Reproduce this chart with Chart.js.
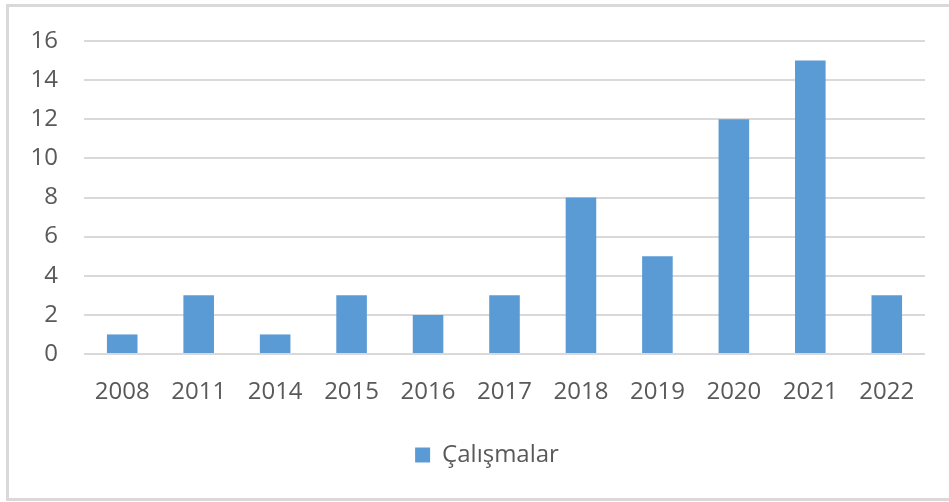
<!DOCTYPE html>
<html>
<head>
<meta charset="utf-8">
<script src="https://cdn.jsdelivr.net/npm/chart.js@4/dist/chart.umd.min.js"></script>
<style>
  html, body { margin: 0; padding: 0; background: #ffffff; }
  #wrap { position: relative; width: 949px; height: 502px; overflow: hidden; }
  #frame { position: absolute; left: 6px; top: 4px; width: 1000px; height: 497px;
           border: 3px solid #d9d9d9; box-sizing: border-box; }
  canvas { position: absolute; left: 0; top: 0; }
</style>
</head>
<body>
<div id="wrap">
  <div id="frame"></div>
  <canvas id="c" width="949" height="502"></canvas>
</div>
<script>
const categories = ["2008", "2011", "2014", "2015", "2016", "2017", "2018", "2019", "2020", "2021", "2022"];
const seriesName = "Çalışmalar";
const values = [1, 3, 1, 3, 2, 3, 8, 5, 12, 15, 3];
const yTicks = [0, 2, 4, 6, 8, 10, 12, 14, 16];

const FONT = "'Open Sans', 'Liberation Sans', sans-serif";
const TEXT = "#595959";

const legendShift = {
  id: "legendShift",
  afterLayout(chart) {
    if (chart.legend) { chart.legend.left = 49; }
  }
};

new Chart(document.getElementById("c"), {
  type: "bar",
  data: {
    labels: categories,
    datasets: [{
      label: seriesName,
      data: values,
      backgroundColor: "#5b9bd5",
      borderWidth: 0,
      categoryPercentage: 1.0,
      barPercentage: 0.4
    }]
  },
  plugins: [legendShift],
  options: {
    responsive: false,
    animation: false,
    devicePixelRatio: 1,
    layout: { padding: { left: 0, right: 24, top: 41, bottom: 25 } },
    plugins: {
      tooltip: { enabled: false },
      legend: {
        position: "bottom",
        labels: {
          color: TEXT,
          font: { family: FONT, size: 24 },
          boxWidth: 15,
          boxHeight: 15,
          padding: 10
        }
      }
    },
    scales: {
      x: {
        grid: { display: false, drawTicks: false },
        border: { display: false },
        ticks: { color: TEXT, font: { family: FONT, size: 24 }, padding: 24, maxRotation: 0, autoSkip: false },
        afterFit: (s) => { s.height = 79; }
      },
      y: {
        min: 0, max: 16,
        afterBuildTicks: (s) => { s.ticks = yTicks.map(v => ({ value: v })); },
        grid: { color: "#d9d9d9", lineWidth: 2, drawTicks: false },
        border: { display: false },
        ticks: { color: TEXT, font: { family: FONT, size: 24 }, padding: 26 },
        afterFit: (s) => { s.width = 84; }
      }
    }
  }
});
</script>
</body>
</html>
